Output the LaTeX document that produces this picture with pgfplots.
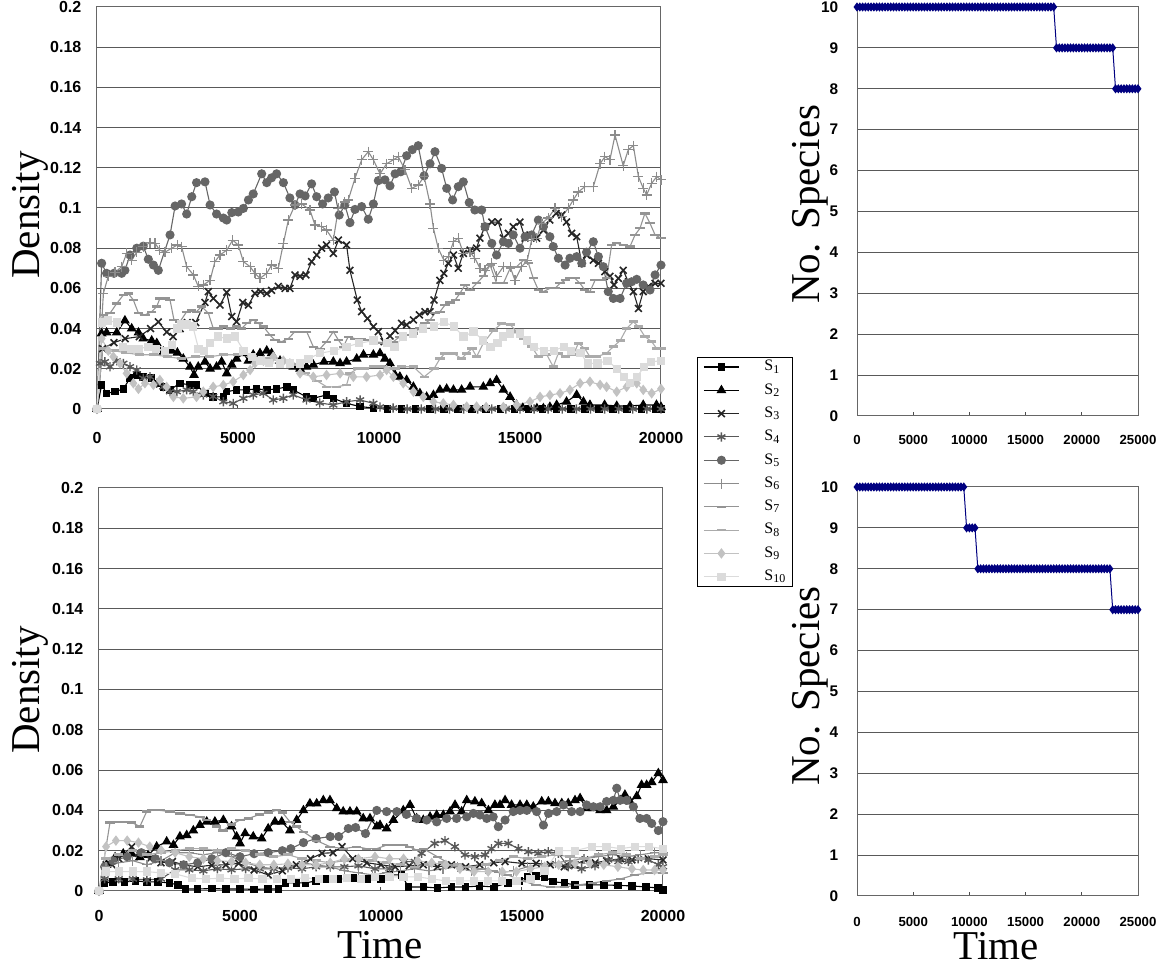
\documentclass[border=0pt]{standalone}
\usepackage{fontspec}
\setmainfont{Liberation Serif}
\newfontfamily\lsans{Liberation Sans}
\usepackage{pgfplots}
\pgfplotsset{compat=1.18}
\definecolor{navyb}{RGB}{0,0,128}
\pgfplotsset{
  common/.style={scale only axis, clip=false,
    ymajorgrids, grid style={black!65, line width=0.5pt},
    tick align=inside, xtick pos=bottom, ytick pos=left, major tick length=2pt,
    ytick style={draw=none}, xtick style={black!70, line width=0.5pt},
    axis line style={black!60, line width=0.5pt},
    scaled x ticks=false, scaled y ticks=false,
    every axis plot/.append style={line width=0.55pt},
    every mark/.append style={solid},
  },
  dens/.style={common, width=282pt, xmin=0, xmax=20000, ymin=0, ymax=0.2,
    xtick={0,5000,10000,15000,20000}, xticklabels={0,5000,10000,15000,20000},
    ytick={0,0.02,0.04,0.06,0.08,0.1,0.12,0.14,0.16,0.18,0.2},
    yticklabels={0,0.02,0.04,0.06,0.08,0.1,0.12,0.14,0.16,0.18,0.2},
    ticklabel style={font=\lsans\bfseries\fontsize{8}{9}\selectfont},
    yticklabel style={xshift=-4.3pt},
    ylabel={Density}, ylabel style={font=\fontsize{20.5}{24}\selectfont, anchor=center},
  },
  spec/.style={common, width=140.5pt, height=204.5pt, xmin=0, xmax=25000, ymin=0, ymax=10,
    xtick={0,5000,10000,15000,20000,25000}, xticklabels={0,5000,10000,15000,20000,25000},
    ytick={0,1,2,3,4,5,6,7,8,9,10}, yticklabels={0,1,2,3,4,5,6,7,8,9,10},
    xticklabel style={font=\lsans\bfseries\fontsize{6.6}{8}\selectfont},
    yticklabel style={font=\lsans\bfseries\fontsize{7.7}{9}\selectfont, xshift=-5.9pt},
    ylabel={No. Species}, ylabel style={font=\fontsize{20.5}{24}\selectfont, anchor=center,
      at={(axis description cs:-0.1673,0.518)}},
  },
  sp/.style={navyb, line width=0.5pt, mark=diamond*, mark size=1.9pt, mark options={fill=navyb, draw=navyb}},
  s1/.style={black, mark=square*, mark size=1.6pt},
  s2/.style={black, mark=triangle*, mark size=2.3pt},
  s3/.style={black!85, mark=x, mark size=2.4pt, mark options={line width=0.8pt}},
  s4/.style={black!65, mark=asterisk, mark size=2.3pt, mark options={line width=0.7pt}},
  s5/.style={black!60, mark=*, mark size=2pt},
  s6/.style={black!45, mark=+, mark size=2.5pt, mark options={line width=0.6pt}},
  s7/.style={black!42, mark=-, mark size=2.3pt, mark options={line width=1.1pt}},
  s8/.style={black!33, mark=-, mark size=2.3pt, mark options={line width=1.3pt}},
  s9/.style={black!24, mark=diamond*, mark size=2.2pt},
  s10/.style={black!14, mark=square*, mark size=1.8pt},
}
\begin{document}
\begin{tikzpicture}
\useasboundingbox (0,0) rectangle (582pt,483.5pt);
% ---------------- top-left ----------------
\begin{axis}[dens, height=201pt, at={(48.5pt,279pt)}, anchor=south west,
  xticklabel style={yshift=-8pt},
  ylabel style={at={(axis description cs:-0.1188,0.4826)}},
  legend image code/.code={\draw[mark repeat=2,mark phase=2] plot coordinates {(0pt,0pt)(8.75pt,0pt)(17.5pt,0pt)};},
  legend cell align=left,
  legend style={at={(axis description cs:1.0638,0.129)}, anchor=north west, draw=black, line width=0.4pt,
    font=\fontsize{8}{9}\selectfont, inner xsep=3pt, inner ysep=1pt, row sep=4.15pt,
    nodes={inner sep=0pt, minimum height=7.5pt}},
  legend entries={\hspace*{12.5pt}S\textsubscript{1},\hspace*{12.5pt}S\textsubscript{2},\hspace*{12.5pt}S\textsubscript{3},\hspace*{12.5pt}S\textsubscript{4},\hspace*{12.5pt}S\textsubscript{5},\hspace*{12.5pt}S\textsubscript{6},\hspace*{12.5pt}S\textsubscript{7},\hspace*{12.5pt}S\textsubscript{8},\hspace*{12.5pt}S\textsubscript{9},\hspace*{12.5pt}S\textsubscript{10}},
]
\addplot[s1] coordinates {(0,0)(165,0.012)(340,0.0078)(640,0.0086)(934,0.010)(1170,0.0153)(1410,0.0169)(1640,0.016)(1940,0.0153)(2120,0.0128)(2350,0.011)(2590,0.0095)(2940,0.0128)(3300,0.012)(3530,0.012)(3830,0.0078)(4120,0.006)(4480,0.006)(4600,0.0086)(4950,0.0095)(5310,0.0095)(5660,0.010)(6020,0.0095)(6370,0.010)(6730,0.011)(6960,0.0095)(7430,0.006)(7670,0.0053)(8140,0.007)(8380,0.0053)(8850,0.0028)(9330,0.0012)(9800,0.0005)(10300,0)(10800,0)(11300,0)(11800,0)(12300,0)(12800,0)(13300,0)(13800,0)(14300,0)(14800,0)(15300,0)(15800,0)(16300,0)(16800,0)(17300,0)(17800,0)(18300,0)(18800,0)(19300,0)(19800,0)(20000,0)};
\addplot[s2] coordinates {(0,0)(165,0.0376)(340,0.038)(700,0.038)(990,0.044)(1230,0.040)(1470,0.038)(1640,0.035)(1940,0.034)(2120,0.0327)(2350,0.0285)(2650,0.029)(2850,0.028)(3060,0.025)(3300,0.021)(3440,0.0169)(3590,0.021)(3830,0.0235)(4010,0.020)(4240,0.021)(4420,0.0235)(4600,0.0177)(4780,0.022)(4950,0.025)(5190,0.0277)(5370,0.024)(5540,0.027)(5780,0.0277)(6020,0.029)(6190,0.0277)(6490,0.024)(6960,0.021)(7200,0.020)(7430,0.021)(7670,0.022)(8050,0.0235)(8380,0.0235)(8620,0.0227)(8850,0.0235)(9210,0.025)(9450,0.027)(9800,0.027)(10035,0.0277)(10210,0.025)(10390,0.0227)(10570,0.0169)(10740,0.016)(10980,0.0144)(11220,0.011)(11450,0.0078)(11690,0.006)(11930,0.0069)(12160,0.0095)(12400,0.010)(12640,0.0095)(12930,0.0095)(13230,0.011)(13700,0.011)(13940,0.0128)(14170,0.0144)(14410,0.0095)(14650,0.006)(14880,0.002)(15100,0.0005)(15350,0.0003)(15600,0.0003)(15830,0.0003)(16060,0.001)(16300,0.002)(16650,0.0036)(17010,0.007)(17250,0.0036)(17480,0.002)(18000,0.002)(18430,0.0015)(18900,0.0015)(19370,0.002)(19840,0.002)(20000,0.001)};
\addplot[s3] coordinates {(0,0)(200,0.030)(600,0.033)(1000,0.035)(1500,0.036)(1900,0.040)(2175,0.0433)(2470,0.0383)(2700,0.036)(2950,0.040)(3200,0.043)(3500,0.043)(3830,0.053)(3950,0.0584)(4125,0.055)(4360,0.0517)(4600,0.058)(4780,0.046)(4950,0.0434)(5170,0.053)(5370,0.0517)(5600,0.0575)(5800,0.0584)(6020,0.0575)(6190,0.059)(6430,0.061)(6670,0.060)(6840,0.060)(7020,0.0667)(7200,0.066)(7410,0.0667)(7610,0.0733)(7790,0.0766)(7970,0.080)(8140,0.0816)(8380,0.0774)(8560,0.084)(8850,0.0816)(8970,0.069)(9230,0.0542)(9385,0.0484)(9590,0.045)(9800,0.041)(9976,0.0385)(10180,0.0335)(10390,0.0363)(10570,0.039)(10800,0.0426)(10980,0.0418)(11220,0.0443)(11430,0.0468)(11630,0.0484)(11810,0.0484)(11950,0.0542)(12160,0.064)(12300,0.0675)(12460,0.0725)(12640,0.0766)(12810,0.070)(12990,0.0774)(13230,0.079)(13460,0.080)(13580,0.085)(13760,0.0907)(14000,0.093)(14230,0.093)(14410,0.085)(14590,0.0874)(14760,0.0907)(15000,0.093)(15180,0.085)(15355,0.0866)(15590,0.085)(15830,0.089)(16060,0.094)(16280,0.0973)(16480,0.0965)(16650,0.093)(16830,0.0874)(17010,0.0857)(17190,0.0725)(17360,0.0766)(17600,0.074)(17780,0.0725)(18010,0.0683)(18190,0.066)(18330,0.0617)(18490,0.065)(18660,0.069)(18840,0.0633)(19020,0.0584)(19200,0.050)(19370,0.0584)(19550,0.061)(19790,0.0625)(20000,0.0625)};
\addplot[s4] coordinates {(0,0)(106,0.0227)(280,0.0235)(460,0.021)(700,0.024)(934,0.0227)(1170,0.021)(1410,0.0194)(1640,0.0153)(1880,0.016)(2120,0.0128)(2350,0.011)(2590,0.0086)(2830,0.0086)(3180,0.0095)(3420,0.0086)(3770,0.007)(4120,0.0062)(4480,0.0036)(4830,0.0028)(5190,0.0053)(5540,0.007)(5900,0.0078)(6250,0.0045)(6610,0.0053)(6960,0.007)(7430,0.0045)(7900,0.003)(8380,0.002)(8850,0.0036)(9330,0.0045)(9800,0.0028)(10035,0.001)(10500,0.0005)(11000,0)(11500,0)(12000,0)(12500,0)(13000,0)(13500,0)(14000,0)(14500,0)(15000,0)(15500,0)(16000,0)(16500,0)(17000,0)(17500,0)(18000,0)(18500,0)(19000,0)(19500,0)(20000,0)};
\addplot[s5] coordinates {(0,0)(165,0.0725)(340,0.0675)(600,0.0675)(875,0.0675)(990,0.069)(1170,0.0766)(1410,0.080)(1640,0.081)(1820,0.0745)(2000,0.0716)(2175,0.069)(2590,0.0866)(2770,0.101)(3000,0.102)(3180,0.097)(3360,0.1056)(3530,0.1126)(3830,0.113)(4010,0.1015)(4240,0.097)(4480,0.095)(4600,0.094)(4780,0.0977)(5010,0.098)(5190,0.0998)(5370,0.104)(5540,0.107)(5840,0.117)(6020,0.1126)(6190,0.115)(6370,0.117)(6610,0.1126)(6840,0.105)(7020,0.1015)(7200,0.107)(7380,0.106)(7610,0.112)(7790,0.1056)(8000,0.102)(8200,0.105)(8420,0.108)(8590,0.0965)(8790,0.1015)(8970,0.0927)(9150,0.0993)(9385,0.1007)(9620,0.0944)(9800,0.102)(9976,0.1136)(10210,0.114)(10390,0.111)(10570,0.117)(10770,0.118)(10980,0.126)(11180,0.129)(11390,0.131)(11600,0.116)(11810,0.122)(11985,0.128)(12220,0.1197)(12400,0.1098)(12610,0.104)(12810,0.1106)(12990,0.113)(13200,0.1027)(13400,0.099)(13640,0.099)(13760,0.0907)(14000,0.0824)(14170,0.0766)(14410,0.0832)(14590,0.0824)(14760,0.0866)(15000,0.080)(15180,0.0857)(15410,0.0866)(15650,0.094)(15830,0.0907)(16060,0.0857)(16180,0.0808)(16360,0.075)(16600,0.0716)(16770,0.075)(17010,0.0758)(17190,0.0725)(17360,0.078)(17600,0.0832)(17780,0.0758)(17955,0.0708)(18130,0.0584)(18310,0.055)(18550,0.055)(18780,0.0625)(18960,0.0633)(19140,0.0645)(19370,0.0617)(19610,0.0592)(19790,0.0667)(20000,0.0716)};
\addplot[s6] coordinates {(0,0)(225,0.0575)(400,0.066)(640,0.068)(875,0.0708)(1050,0.0774)(1230,0.074)(1410,0.078)(1640,0.0808)(1880,0.0828)(2060,0.0824)(2230,0.079)(2410,0.078)(2650,0.080)(2850,0.0816)(3000,0.0808)(3180,0.0708)(3420,0.0667)(3590,0.061)(3770,0.0617)(4010,0.064)(4180,0.0733)(4360,0.0766)(4600,0.079)(4810,0.084)(5010,0.0816)(5190,0.0733)(5430,0.0708)(5600,0.0675)(5780,0.065)(6020,0.0675)(6190,0.0716)(6430,0.070)(6610,0.0824)(6785,0.094)(7020,0.1015)(7260,0.102)(7550,0.099)(7730,0.0915)(7970,0.0907)(8140,0.089)(8380,0.084)(8560,0.0998)(8790,0.103)(8910,0.104)(9150,0.1148)(9385,0.124)(9620,0.128)(9800,0.124)(10035,0.117)(10270,0.122)(10510,0.124)(10685,0.1255)(10920,0.119)(11160,0.1098)(11390,0.1114)(11600,0.1156)(11810,0.102)(11930,0.0899)(12100,0.080)(12300,0.074)(12460,0.0758)(12640,0.0832)(12810,0.085)(12990,0.0774)(13230,0.078)(13400,0.075)(13580,0.070)(13760,0.069)(14000,0.0725)(14170,0.066)(14410,0.0708)(14650,0.0708)(14820,0.064)(15060,0.0708)(15260,0.074)(15410,0.084)(15590,0.085)(15770,0.0924)(16000,0.095)(16240,0.0998)(16480,0.0957)(16710,0.0998)(16890,0.104)(17070,0.108)(17300,0.1106)(17600,0.1106)(17840,0.122)(18010,0.1255)(18190,0.124)(18370,0.1363)(18660,0.121)(18840,0.129)(19020,0.131)(19200,0.1156)(19370,0.1098)(19490,0.1065)(19670,0.1123)(19850,0.1156)(20000,0.114)};
\addplot[s7] coordinates {(0,0)(225,0.0468)(460,0.0476)(700,0.0525)(934,0.0567)(1110,0.0575)(1290,0.0542)(1470,0.0476)(1700,0.0468)(1940,0.0484)(2120,0.051)(2230,0.055)(2410,0.055)(2590,0.0542)(2730,0.0443)(2940,0.0434)(3180,0.0484)(3360,0.049)(3530,0.0484)(3710,0.051)(3950,0.0476)(4125,0.040)(4300,0.040)(4480,0.041)(4720,0.040)(4950,0.041)(5130,0.040)(5310,0.0426)(5540,0.0443)(5720,0.0426)(5900,0.041)(6135,0.0368)(6310,0.0343)(6550,0.0335)(6785,0.035)(7020,0.0385)(7260,0.0385)(7435,0.0385)(7670,0.031)(7910,0.030)(8140,0.0335)(8380,0.0385)(8560,0.0343)(8735,0.031)(8910,0.036)(9150,0.035)(9385,0.035)(9590,0.0343)(9800,0.0335)(10035,0.0327)(10270,0.0335)(10510,0.0335)(10740,0.036)(10980,0.0368)(11220,0.0376)(11450,0.040)(11630,0.0426)(11810,0.0443)(11985,0.0476)(12160,0.0484)(12340,0.0517)(12520,0.053)(12700,0.0542)(12870,0.0575)(13050,0.0617)(13230,0.059)(13460,0.0625)(13700,0.066)(13940,0.0716)(14170,0.0625)(14410,0.0625)(14650,0.070)(14880,0.0708)(15120,0.074)(15300,0.0725)(15470,0.065)(15650,0.0592)(15830,0.0584)(16060,0.060)(16240,0.060)(16420,0.0625)(16600,0.064)(16770,0.065)(16950,0.065)(17130,0.0625)(17300,0.0592)(17480,0.0584)(17660,0.064)(17900,0.064)(18070,0.065)(18250,0.0816)(18430,0.0824)(18660,0.0816)(18900,0.0808)(19080,0.0866)(19255,0.0899)(19430,0.0973)(19610,0.0924)(19790,0.0866)(20000,0.085)};
\addplot[s8] coordinates {(0,0)(200,0.030)(600,0.029)(1000,0.028)(1500,0.027)(2000,0.027)(2500,0.026)(3000,0.025)(3500,0.026)(4000,0.026)(4500,0.027)(5000,0.027)(5500,0.026)(6000,0.025)(6500,0.024)(7000,0.022)(7400,0.018)(7800,0.014)(8150,0.011)(8500,0.011)(8850,0.012)(8970,0.0177)(9230,0.020)(9500,0.020)(9800,0.021)(10035,0.021)(10390,0.020)(10570,0.020)(10800,0.021)(11220,0.021)(11600,0.016)(11950,0.020)(12160,0.025)(12340,0.0277)(12640,0.0277)(12930,0.025)(13110,0.0277)(13300,0.030)(13460,0.026)(13700,0.0327)(14050,0.039)(14350,0.0426)(14650,0.042)(14880,0.0385)(15120,0.035)(15410,0.031)(15650,0.026)(15950,0.027)(16180,0.021)(16360,0.0277)(16600,0.026)(16890,0.027)(17070,0.0327)(17300,0.030)(17480,0.026)(17720,0.026)(18070,0.0277)(18310,0.031)(18550,0.034)(18780,0.040)(19020,0.0434)(19200,0.041)(19430,0.036)(19670,0.0335)(19850,0.030)(20000,0.030)};
\addplot[s9] coordinates {(0,0)(165,0.035)(400,0.029)(580,0.026)(816,0.0227)(1050,0.0177)(1290,0.0128)(1470,0.010)(1700,0.0128)(2000,0.012)(2230,0.0144)(2470,0.011)(2710,0.006)(3060,0.0053)(3530,0.006)(3770,0.0086)(4120,0.011)(4480,0.0119)(4830,0.0136)(5190,0.0169)(5430,0.0194)(5600,0.0227)(5900,0.024)(6250,0.026)(6610,0.024)(6840,0.0227)(7200,0.0177)(7670,0.016)(8140,0.0169)(8620,0.0177)(9090,0.016)(9560,0.016)(10035,0.0169)(10270,0.0194)(10510,0.016)(10860,0.0128)(11220,0.0086)(11570,0.006)(11930,0.0036)(12280,0.0028)(12640,0.002)(13110,0.0012)(13460,0.0012)(13800,0.001)(14410,0.001)(14880,0.002)(15355,0.0036)(15710,0.006)(16060,0.0069)(16420,0.0078)(16770,0.0095)(17130,0.0128)(17480,0.0136)(17840,0.012)(18070,0.011)(18430,0.0086)(18780,0.011)(19140,0.0128)(19370,0.0095)(19670,0.0078)(20000,0.010)};
\addplot[s10] coordinates {(0,0)(165,0.043)(400,0.044)(700,0.043)(934,0.031)(1200,0.030)(1500,0.030)(1800,0.031)(2100,0.030)(2400,0.029)(2650,0.032)(2850,0.040)(3000,0.042)(3200,0.042)(3400,0.041)(3600,0.030)(3800,0.029)(4000,0.033)(4300,0.036)(4600,0.035)(4900,0.036)(5200,0.029)(5500,0.026)(5800,0.024)(6100,0.023)(6500,0.0227)(6850,0.0227)(7200,0.0227)(7500,0.025)(7900,0.0277)(8400,0.029)(8850,0.031)(9300,0.0327)(9800,0.034)(10300,0.0327)(10550,0.031)(10850,0.036)(11200,0.0376)(11550,0.040)(11950,0.041)(12300,0.0434)(12650,0.041)(13000,0.036)(13350,0.0385)(13700,0.034)(13950,0.031)(14200,0.0327)(14400,0.036)(14650,0.0376)(15000,0.0376)(15250,0.034)(15500,0.031)(15850,0.029)(16200,0.029)(16550,0.031)(16800,0.029)(17150,0.0277)(17400,0.0227)(17750,0.0227)(18100,0.024)(18450,0.020)(18700,0.016)(18900,0.0128)(19150,0.016)(19400,0.021)(19650,0.0235)(20000,0.024)};
\end{axis}
% ---------------- bottom-left ----------------
\begin{axis}[dens, height=201.5pt, at={(49.5pt,38pt)}, anchor=south west,
  xticklabel style={yshift=-6pt},
  ylabel style={at={(axis description cs:-0.1223,0.4988)}},
  xlabel={Time}, xlabel style={font=\fontsize{20.5}{24}\selectfont, anchor=center, at={(axis description cs:0.4982,-0.134)}},
]
\addplot[s1] coordinates {(0,0)(200,0.004)(500,0.0045)(900,0.0045)(1300,0.005)(1700,0.0045)(2100,0.0045)(2500,0.004)(2800,0.003)(3060,0.001)(3500,0.001)(4000,0.0012)(4500,0.001)(5000,0.001)(5500,0.0008)(6000,0.001)(6370,0.001)(6610,0.004)(7000,0.004)(7320,0.004)(7700,0.005)(8020,0.006)(8500,0.006)(9000,0.0065)(9500,0.006)(10000,0.006)(10300,0.008)(10730,0.008)(10970,0.002)(11500,0.002)(12000,0.0015)(12500,0.002)(13000,0.002)(13500,0.0025)(14000,0.002)(14500,0.004)(14900,0.005)(15200,0.007)(15500,0.0075)(15800,0.007)(16100,0.0046)(16500,0.004)(16880,0.003)(17400,0.003)(17900,0.003)(18400,0.0028)(18900,0.0025)(19400,0.002)(19830,0.0015)(20000,0.0005)};
\addplot[s2] coordinates {(0,0)(270,0.013)(570,0.0167)(860,0.0185)(1160,0.0185)(1450,0.0167)(1750,0.0179)(2045,0.022)(2400,0.0245)(2640,0.0228)(2870,0.027)(3110,0.0277)(3345,0.030)(3580,0.0327)(3820,0.0344)(4110,0.0344)(4410,0.0352)(4700,0.032)(4880,0.027)(5000,0.0236)(5180,0.0286)(5470,0.027)(5770,0.026)(6000,0.031)(6240,0.0344)(6480,0.0344)(6770,0.030)(7010,0.0352)(7250,0.040)(7480,0.0434)(7720,0.0434)(7955,0.045)(8190,0.045)(8430,0.041)(8660,0.0394)(8900,0.0394)(9140,0.0394)(9370,0.036)(9610,0.036)(9850,0.032)(9965,0.0327)(10200,0.031)(10440,0.0352)(10790,0.040)(11030,0.0427)(11265,0.036)(11500,0.0352)(11740,0.0368)(11975,0.0377)(12210,0.0377)(12450,0.0394)(12625,0.0427)(12860,0.0394)(13040,0.045)(13330,0.0444)(13570,0.0435)(13810,0.040)(14040,0.0427)(14220,0.0427)(14400,0.045)(14630,0.0427)(14930,0.0427)(15170,0.0427)(15400,0.0418)(15700,0.0444)(15935,0.0444)(16170,0.0435)(16410,0.0435)(16640,0.0435)(16880,0.045)(17060,0.046)(17290,0.041)(17530,0.041)(17770,0.040)(18000,0.040)(18240,0.0418)(18480,0.045)(18650,0.0477)(18830,0.0444)(19070,0.047)(19240,0.0526)(19420,0.0526)(19600,0.054)(19835,0.0584)(20000,0.055)};
\addplot[s3] coordinates {(0,0)(250,0.013)(460,0.013)(700,0.016)(1160,0.0219)(1400,0.0187)(1810,0.016)(2200,0.014)(2600,0.0146)(3000,0.013)(3500,0.012)(4000,0.0128)(4500,0.013)(4950,0.0137)(5500,0.0104)(6000,0.008)(6500,0.010)(7000,0.013)(7500,0.016)(7910,0.0187)(8300,0.019)(8620,0.022)(9000,0.016)(9500,0.014)(10000,0.013)(10500,0.012)(11000,0.0125)(11500,0.013)(12000,0.012)(12500,0.013)(13000,0.012)(13500,0.013)(14000,0.014)(14400,0.0146)(15000,0.0137)(15500,0.0137)(16000,0.013)(16500,0.012)(16880,0.013)(17230,0.0154)(17600,0.014)(18000,0.015)(18500,0.016)(18900,0.0154)(19480,0.016)(20000,0.0154)};
\addplot[s4] coordinates {(0,0)(200,0.006)(700,0.006)(1200,0.006)(1700,0.0055)(2200,0.006)(2700,0.0105)(3200,0.0105)(3700,0.010)(4200,0.011)(4700,0.0105)(5200,0.011)(5700,0.011)(6200,0.011)(6700,0.0115)(7200,0.011)(7700,0.012)(8200,0.012)(8700,0.012)(9200,0.0125)(9787,0.011)(10300,0.011)(10800,0.0146)(11200,0.0146)(11440,0.0187)(11900,0.0236)(12270,0.025)(12620,0.022)(12980,0.0179)(13330,0.017)(13690,0.0179)(13920,0.021)(14160,0.0236)(14515,0.0236)(14870,0.021)(15225,0.0195)(15580,0.0187)(15930,0.0195)(16290,0.0187)(16640,0.012)(17115,0.011)(17590,0.0125)(18060,0.0154)(18420,0.0146)(18770,0.0146)(19120,0.016)(19480,0.0154)(19835,0.013)(20000,0.012)};
\addplot[s5] coordinates {(0,0)(200,0.012)(500,0.015)(1000,0.017)(1500,0.019)(2000,0.016)(2500,0.014)(3000,0.013)(3500,0.014)(4000,0.016)(4500,0.019)(5000,0.017)(5500,0.0185)(6000,0.019)(6500,0.020)(6800,0.021)(7250,0.024)(7700,0.026)(8200,0.027)(8500,0.027)(8840,0.031)(9100,0.0315)(9450,0.0285)(9850,0.040)(10200,0.0394)(10560,0.0394)(10900,0.038)(11265,0.036)(11620,0.0352)(11975,0.0343)(12330,0.036)(12680,0.036)(13040,0.0368)(13275,0.0385)(13510,0.0377)(13750,0.036)(13980,0.0368)(14160,0.0319)(14400,0.0352)(14690,0.0394)(14930,0.040)(15170,0.040)(15520,0.0394)(15760,0.0327)(15940,0.0385)(16230,0.0394)(16470,0.0427)(16760,0.0394)(17060,0.0394)(17290,0.0427)(17530,0.0418)(17770,0.0418)(18000,0.0444)(18240,0.045)(18360,0.051)(18480,0.045)(18710,0.045)(18950,0.0418)(19180,0.036)(19420,0.036)(19600,0.0335)(19835,0.030)(20000,0.0344)};
\addplot[s6] coordinates {(0,0)(250,0.012)(700,0.014)(1200,0.015)(1700,0.013)(2200,0.015)(2700,0.019)(3200,0.019)(3700,0.018)(4200,0.019)(4700,0.017)(5200,0.014)(5700,0.012)(6200,0.011)(6700,0.012)(7200,0.014)(7700,0.013)(8200,0.012)(8700,0.010)(9200,0.009)(9700,0.008)(10200,0.009)(10700,0.010)(11200,0.011)(11700,0.010)(12200,0.011)(12700,0.012)(13200,0.010)(13700,0.011)(14200,0.009)(14700,0.010)(15200,0.012)(15700,0.013)(16200,0.014)(16700,0.015)(17200,0.016)(17700,0.017)(18200,0.018)(18700,0.017)(19200,0.018)(19700,0.019)(20000,0.019)};
\addplot[s7] coordinates {(0,0)(390,0.034)(700,0.0344)(930,0.0344)(1160,0.034)(1450,0.032)(1690,0.0394)(1870,0.040)(2160,0.040)(2520,0.0394)(2870,0.0385)(3230,0.0377)(3580,0.0368)(3820,0.0352)(4170,0.032)(4400,0.030)(4700,0.033)(5000,0.0352)(5300,0.036)(5700,0.038)(6000,0.039)(6300,0.040)(6500,0.039)(6770,0.0344)(7000,0.032)(7250,0.0294)(7720,0.025)(8190,0.022)(8660,0.021)(9140,0.022)(9490,0.021)(9850,0.021)(10200,0.0228)(10500,0.023)(10800,0.023)(11000,0.022)(11265,0.0203)(11500,0.021)(12000,0.017)(12500,0.013)(13000,0.012)(13500,0.011)(14000,0.010)(14500,0.008)(15000,0.005)(15500,0.003)(16000,0.002)(16500,0.002)(17000,0.003)(17500,0.004)(18000,0.005)(18500,0.006)(19000,0.008)(19500,0.009)(20000,0.009)};
\addplot[s8] coordinates {(0,0)(250,0.016)(700,0.018)(1200,0.020)(1700,0.018)(2200,0.019)(2700,0.020)(3200,0.021)(3700,0.021)(4200,0.020)(4700,0.021)(5200,0.020)(5700,0.018)(6200,0.017)(6700,0.018)(7200,0.016)(7700,0.015)(8200,0.014)(8700,0.015)(9200,0.016)(9700,0.015)(10200,0.014)(10700,0.013)(11200,0.012)(11700,0.013)(12200,0.014)(12700,0.013)(13200,0.012)(13700,0.013)(14200,0.015)(14700,0.017)(15200,0.016)(15700,0.017)(16200,0.018)(16700,0.017)(17200,0.016)(17700,0.018)(18200,0.019)(18700,0.018)(19200,0.016)(19700,0.017)(20000,0.018)};
\addplot[s9] coordinates {(0,0)(250,0.022)(600,0.025)(1000,0.025)(1400,0.024)(1800,0.022)(2200,0.0203)(2700,0.019)(3200,0.017)(3700,0.016)(4200,0.015)(4700,0.0146)(5200,0.014)(5700,0.013)(6200,0.013)(6700,0.0135)(7200,0.013)(7700,0.013)(8200,0.014)(8700,0.016)(9200,0.016)(9787,0.017)(10300,0.016)(10800,0.016)(11300,0.015)(11800,0.014)(12300,0.013)(12800,0.011)(13300,0.0096)(13800,0.0096)(14300,0.0096)(14800,0.0096)(15300,0.011)(15800,0.012)(16300,0.013)(16880,0.0137)(17400,0.0137)(17900,0.013)(18400,0.012)(18900,0.011)(19300,0.0104)(19700,0.0104)(20000,0.0104)};
\addplot[s10] coordinates {(0,0)(250,0.0096)(700,0.0096)(1200,0.0096)(1700,0.0096)(2200,0.009)(2700,0.0085)(3300,0.0063)(3800,0.006)(4300,0.0063)(4800,0.006)(5300,0.0063)(5800,0.006)(6300,0.006)(6800,0.006)(7300,0.0065)(7800,0.006)(8300,0.006)(8800,0.0065)(9300,0.006)(9787,0.007)(10300,0.007)(10800,0.007)(11300,0.007)(11800,0.006)(12300,0.005)(12800,0.005)(13300,0.005)(13800,0.005)(14300,0.005)(14800,0.005)(15300,0.006)(15800,0.010)(16300,0.020)(16880,0.020)(17470,0.022)(18000,0.022)(18500,0.021)(19000,0.022)(19500,0.022)(20000,0.021)};
\end{axis}
% ---------------- top-right ----------------
\begin{axis}[spec, at={(428.5pt,275.5pt)}, anchor=south west,
  xticklabel style={yshift=-6.3pt}]
\addplot[sp] coordinates {(0,10)(250,10)(500,10)(750,10)(1000,10)(1250,10)(1500,10)(1750,10)(2000,10)(2250,10)(2500,10)(2750,10)(3000,10)(3250,10)(3500,10)(3750,10)(4000,10)(4250,10)(4500,10)(4750,10)(5000,10)(5250,10)(5500,10)(5750,10)(6000,10)(6250,10)(6500,10)(6750,10)(7000,10)(7250,10)(7500,10)(7750,10)(8000,10)(8250,10)(8500,10)(8750,10)(9000,10)(9250,10)(9500,10)(9750,10)(10000,10)(10250,10)(10500,10)(10750,10)(11000,10)(11250,10)(11500,10)(11750,10)(12000,10)(12250,10)(12500,10)(12750,10)(13000,10)(13250,10)(13500,10)(13750,10)(14000,10)(14250,10)(14500,10)(14750,10)(15000,10)(15250,10)(15500,10)(15750,10)(16000,10)(16250,10)(16500,10)(16750,10)(17000,10)(17250,10)(17500,10)(17750,9)(18000,9)(18250,9)(18500,9)(18750,9)(19000,9)(19250,9)(19500,9)(19750,9)(20000,9)(20250,9)(20500,9)(20750,9)(21000,9)(21250,9)(21500,9)(21750,9)(22000,9)(22250,9)(22500,9)(22750,9)(23000,8)(23250,8)(23500,8)(23750,8)(24000,8)(24250,8)(24500,8)(24750,8)(25000,8)};
\end{axis}
% ---------------- bottom-right ----------------
\begin{axis}[spec, at={(428.5pt,35.5pt)}, anchor=south west,
  xticklabel style={yshift=-7.3pt},
  ylabel style={at={(axis description cs:-0.1673,0.5134)}},
  xlabel={Time}, xlabel style={font=\fontsize{20.5}{24}\selectfont, anchor=center, at={(axis description cs:0.4947,-0.1222)}},
]
\addplot[sp] coordinates {(0,10)(250,10)(500,10)(750,10)(1000,10)(1250,10)(1500,10)(1750,10)(2000,10)(2250,10)(2500,10)(2750,10)(3000,10)(3250,10)(3500,10)(3750,10)(4000,10)(4250,10)(4500,10)(4750,10)(5000,10)(5250,10)(5500,10)(5750,10)(6000,10)(6250,10)(6500,10)(6750,10)(7000,10)(7250,10)(7500,10)(7750,10)(8000,10)(8250,10)(8500,10)(8750,10)(9000,10)(9250,10)(9500,10)(9750,9)(10000,9)(10250,9)(10500,9)(10750,8)(11000,8)(11250,8)(11500,8)(11750,8)(12000,8)(12250,8)(12500,8)(12750,8)(13000,8)(13250,8)(13500,8)(13750,8)(14000,8)(14250,8)(14500,8)(14750,8)(15000,8)(15250,8)(15500,8)(15750,8)(16000,8)(16250,8)(16500,8)(16750,8)(17000,8)(17250,8)(17500,8)(17750,8)(18000,8)(18250,8)(18500,8)(18750,8)(19000,8)(19250,8)(19500,8)(19750,8)(20000,8)(20250,8)(20500,8)(20750,8)(21000,8)(21250,8)(21500,8)(21750,8)(22000,8)(22250,8)(22500,8)(22750,7)(23000,7)(23250,7)(23500,7)(23750,7)(24000,7)(24250,7)(24500,7)(24750,7)(25000,7)};
\end{axis}
\end{tikzpicture}
\end{document}
